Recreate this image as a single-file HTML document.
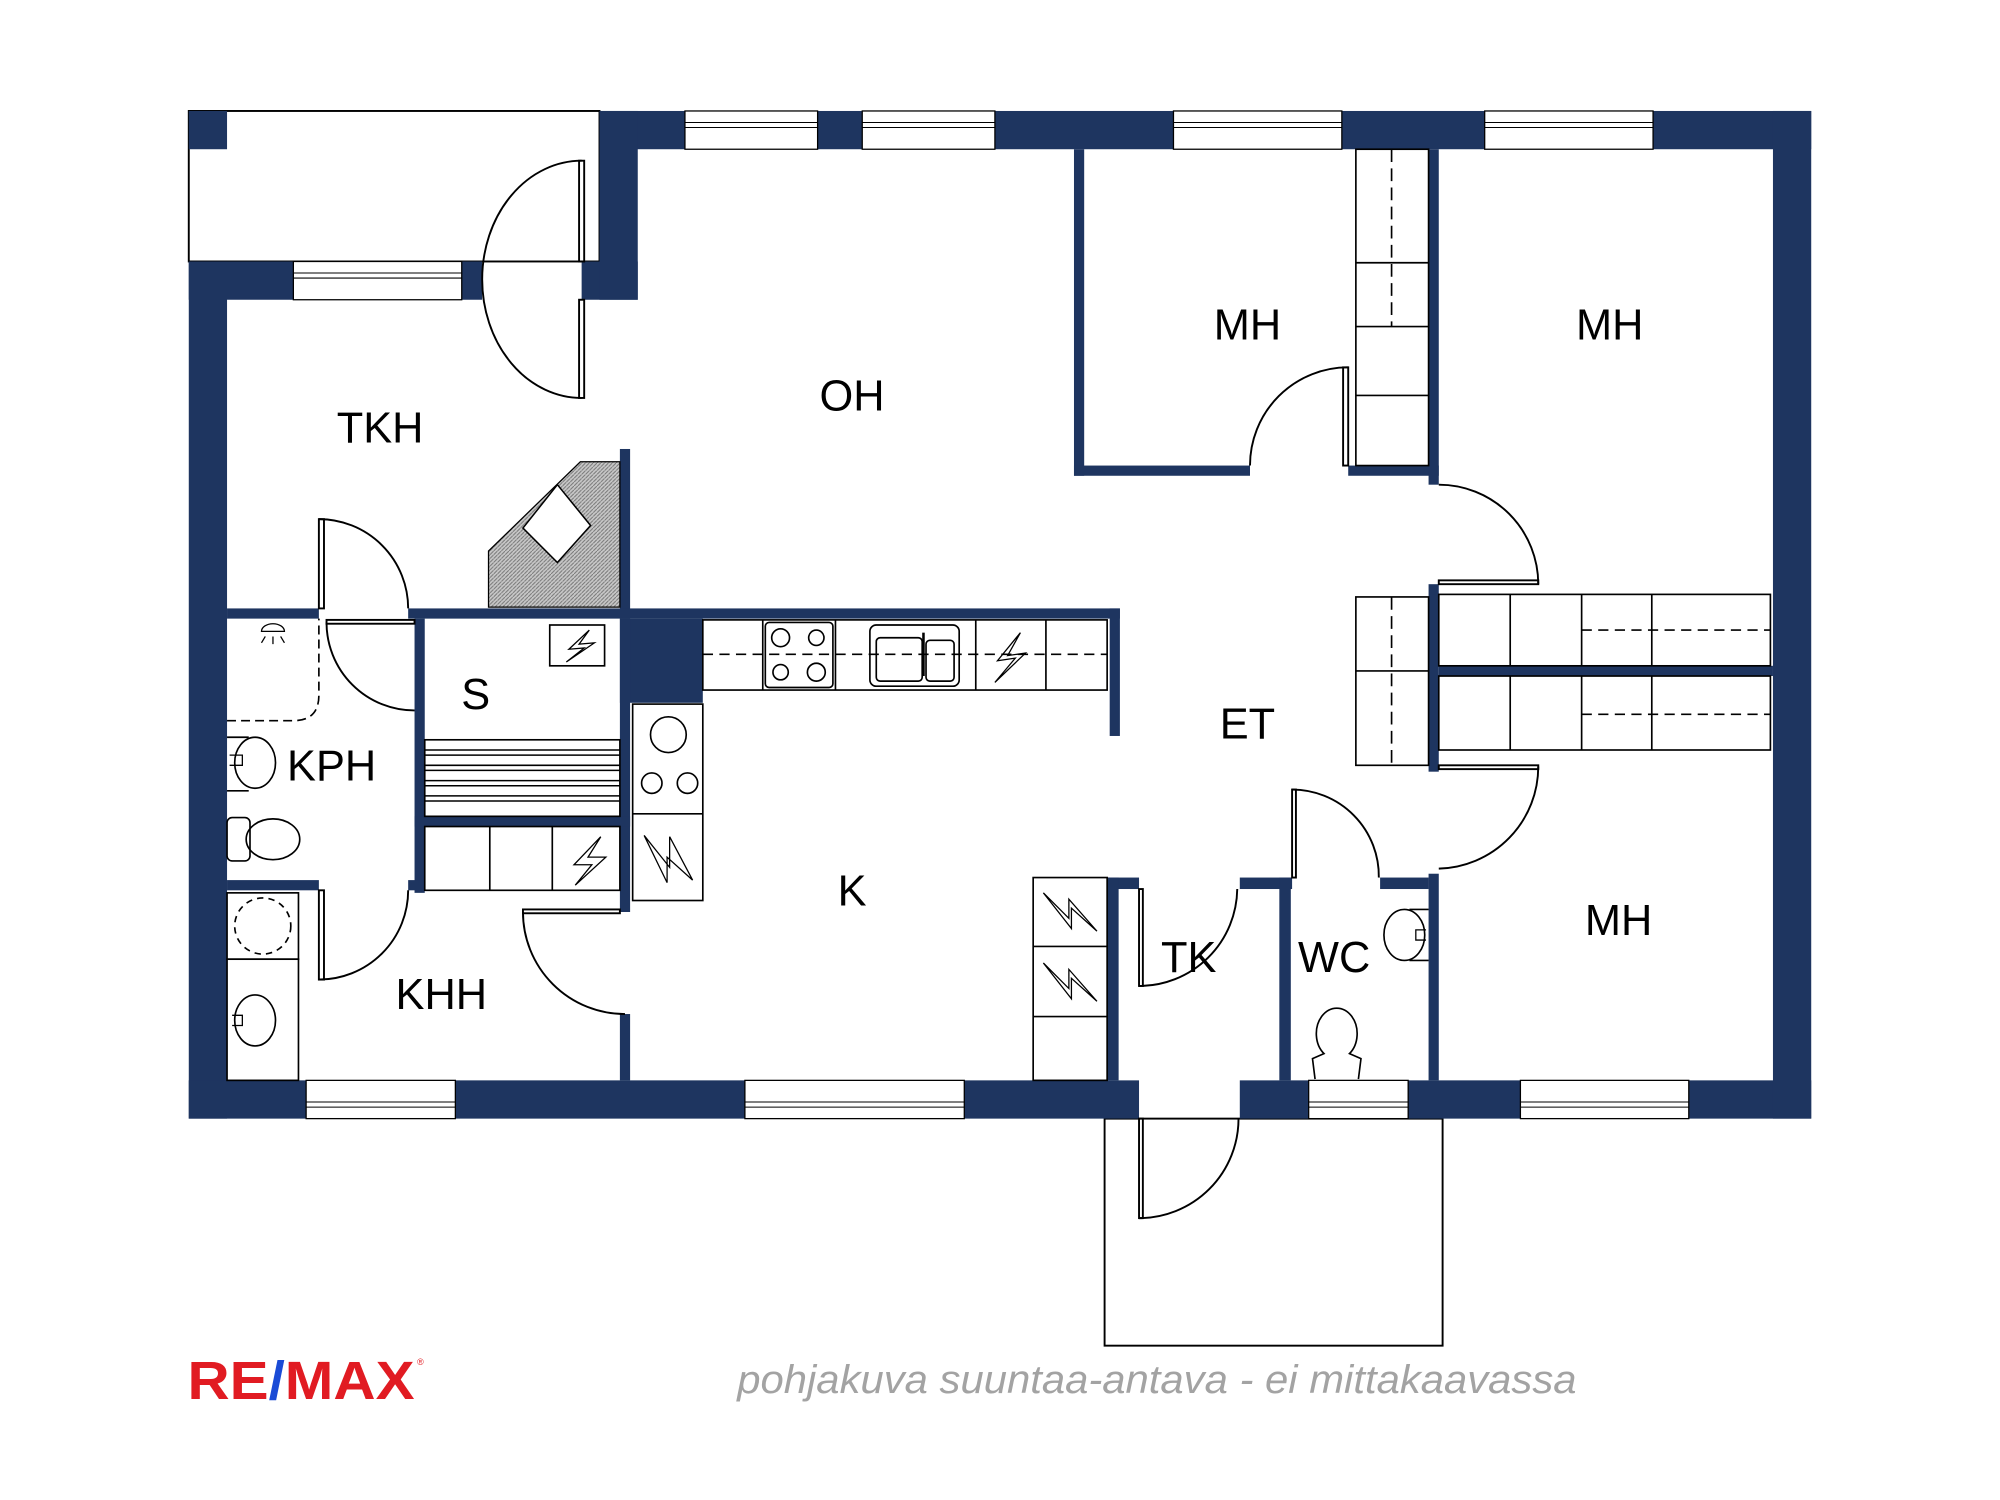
<!DOCTYPE html>
<html><head><meta charset="utf-8"><style>
html,body{margin:0;padding:0;background:#fff;}
svg{display:block;}
text{font-family:"Liberation Sans",sans-serif;}
</style></head><body>
<svg width="2000" height="1500" viewBox="0 0 1568 1176" preserveAspectRatio="none" xmlns="http://www.w3.org/2000/svg">
<defs>
<pattern id="h" width="3" height="3" patternUnits="userSpaceOnUse"><rect width="3" height="3" fill="#c8c8c8"/><path d="M0,3 L3,0" stroke="#777" stroke-width="0.8"/></pattern>
</defs>
<rect x="148" y="87" width="322" height="118" fill="none" stroke="#000" stroke-width="1.5"/>
<rect x="866" y="877" width="265" height="178" fill="none" stroke="#000" stroke-width="1.5"/>
<g fill="#1e3560">
<rect x="470" y="87" width="950" height="30"/>
<rect x="148" y="87" width="30" height="30"/>
<rect x="148" y="205" width="30" height="672"/>
<rect x="148" y="847" width="745" height="30"/>
<rect x="972" y="847" width="448" height="30"/>
<rect x="1390" y="87" width="30" height="790"/>
<rect x="148" y="205" width="230" height="30"/>
<rect x="456" y="205" width="44" height="30"/>
<rect x="470" y="87" width="30" height="148"/>
<rect x="486" y="352" width="8" height="133"/>
<rect x="178" y="477" width="72" height="8"/>
<rect x="320" y="477" width="558" height="8"/>
<rect x="870" y="477" width="8" height="100"/>
<rect x="486" y="485" width="65" height="66"/>
<rect x="325" y="485" width="8" height="215"/>
<rect x="486" y="485" width="8" height="230"/>
<rect x="325" y="640" width="169" height="8"/>
<rect x="178" y="690" width="72" height="8"/>
<rect x="320" y="690" width="13" height="8"/>
<rect x="486" y="795" width="8" height="52"/>
<rect x="842" y="117" width="8" height="256"/>
<rect x="842" y="365" width="138" height="8"/>
<rect x="1057" y="365" width="71" height="8"/>
<rect x="1120" y="117" width="8" height="263"/>
<rect x="1120" y="458" width="8" height="147"/>
<rect x="1120" y="685" width="8" height="162"/>
<rect x="1128" y="522" width="262" height="8"/>
<rect x="868" y="688" width="25" height="9"/>
<rect x="868" y="688" width="9" height="159"/>
<rect x="972" y="688" width="41" height="9"/>
<rect x="1003" y="688" width="9" height="159"/>
<rect x="1082" y="688" width="38" height="9"/>
</g>
<g fill="#fff" stroke="#000" stroke-width="1">
<rect x="537" y="87" width="104" height="30"/><rect x="676" y="87" width="104" height="30"/>
<rect x="920" y="87" width="132" height="30"/><rect x="1164" y="87" width="132" height="30"/>
<rect x="230" y="205" width="132" height="30"/>
<rect x="240" y="847" width="117" height="30"/><rect x="584" y="847" width="172" height="30"/>
<rect x="1026" y="847" width="78" height="30"/><rect x="1192" y="847" width="132" height="30"/>
</g>
<g stroke="#000" stroke-width="0.8" fill="none">
<path d="M537,96H641M537,100H641M676,96H780M676,100H780M920,96H1052M920,100H1052M1164,96H1296M1164,100H1296M230,214H362M230,218H362M240,868H357M240,864H357M584,868H756M584,864H756M1026,868H1104M1026,864H1104M1192,868H1324M1192,864H1324"/>
</g>
<g fill="none" stroke="#000" stroke-width="1.5">
<path d="M456,126 A78,93 0 0 0 456,312"/>
<rect x="454" y="126" width="4" height="79"/><rect x="454" y="235" width="4" height="77"/>
<path d="M250,407 A70,70 0 0 1 320,477"/><rect x="250" y="407" width="4" height="70"/>
<path d="M256,488 A69,69 0 0 0 325,557"/><rect x="256" y="486" width="69" height="3"/>
<path d="M250,768 A70,70 0 0 0 320,698"/><rect x="250" y="698" width="4" height="70"/>
<path d="M410,715 A80,80 0 0 0 490,795"/><rect x="410" y="713" width="76" height="3"/>
<path d="M980,365 A77,77 0 0 1 1057,288"/><rect x="1053" y="288" width="4" height="77"/>
<path d="M1128,380 A78,78 0 0 1 1206,458"/><rect x="1128" y="455" width="78" height="3"/>
<path d="M1206,601 A80,80 0 0 1 1128,681"/><rect x="1128" y="600" width="78" height="3"/>
<path d="M1013,619 A68,68 0 0 1 1081,688"/><rect x="1013" y="619" width="3" height="69"/>
<path d="M893,773 A77,77 0 0 0 970,697"/><rect x="893" y="697" width="3" height="76"/>
<path d="M893,955 A78,78 0 0 0 971,877"/><rect x="893" y="877" width="3" height="78"/>
</g>
<polygon points="383,476 383,432 455,362 486,362 486,476" fill="url(#h)" stroke="#000" stroke-width="1"/>
<polygon points="410,414 437,380 463,412 437,441" fill="#fff" stroke="#000" stroke-width="1.2"/>
<g fill="none" stroke="#000" stroke-width="1.3">
<rect x="551" y="486" width="317" height="55"/>
<path d="M598,486V541M655,486V541M765,486V541M820,486V541"/>
<path d="M551,513H868" stroke-dasharray="8,5"/>
<rect x="600" y="488" width="53" height="51" rx="3"/>
<circle cx="612" cy="500" r="7"/><circle cx="640" cy="500" r="6"/><circle cx="612" cy="527" r="6"/><circle cx="640" cy="527" r="7"/>
<rect x="682" y="490" width="70" height="48" rx="5"/><rect x="687" y="500" width="36" height="34" rx="3"/><rect x="726" y="502" width="22" height="32" rx="3"/>
<path d="M724,496V530" stroke-width="2"/>
<path d="M800,496 L782,518 L796,516 L780,535 L804,512 L790,514 Z" stroke-width="1"/>
<rect x="496" y="552" width="55" height="154"/><path d="M496,638H551"/>
<circle cx="524" cy="576" r="14"/><circle cx="511" cy="614" r="8"/><circle cx="539" cy="614" r="8"/>
<path d="M505,655 L525,680 L525,656 L543,690 L523,672 L523,692 Z" stroke-width="1"/>
<rect x="431" y="490" width="43" height="32"/>
<path d="M462,494 L446,509 L458,508 L444,519 L466,504 L454,505 Z" stroke-width="1"/>
<rect x="333" y="580" width="153" height="60"/>
<path d="M333,588H486M333,592H486M333,600H486M333,604H486M333,612H486M333,616H486M333,624H486M333,628H486" stroke-width="1.2"/>
<rect x="333" y="648" width="153" height="50"/><path d="M384,648V698M433,648V698"/>
<path d="M471,656 L450,678 L464,678 L451,694 L475,672 L461,672 Z" stroke-width="1"/>
<path d="M178,565H230 Q250,565 250,545V485" stroke-dasharray="7,4"/>
<path d="M205,495 a9,6 0 0 1 18,0 Z M208,499l-3,5M214,499v6M220,499l3,5" stroke-width="1"/>
<ellipse cx="200" cy="598" rx="16" ry="20"/><path d="M178,578 L195,578 M178,620 L195,620"/>
<path d="M180,592h10v8h-10" stroke-width="1"/>
<rect x="178" y="641" width="18" height="34" rx="4"/><ellipse cx="214" cy="658" rx="21" ry="16"/>
<rect x="178" y="700" width="56" height="52"/><circle cx="206" cy="726" r="22" stroke-dasharray="5,4"/>
<rect x="178" y="752" width="56" height="95"/><ellipse cx="200" cy="800" rx="16" ry="20"/>
<path d="M182,796h8v8h-8" stroke-width="1"/>
<rect x="810" y="688" width="58" height="159"/><path d="M810,742H868M810,797H868"/>
<path d="M818,700 L838,720 L838,705 L860,730 L840,712 L840,728 Z" stroke-width="1"/>
<path d="M818,755 L838,775 L838,760 L860,785 L840,767 L840,783 Z" stroke-width="1"/>
<rect x="1063" y="468" width="57" height="132"/><path d="M1063,526H1120"/><path d="M1091,468V600" stroke-dasharray="10,5"/>
<rect x="1063" y="117" width="57" height="248"/><path d="M1063,206H1120M1063,256H1120M1063,310H1120"/><path d="M1091,117V256" stroke-dasharray="10,5"/>
<rect x="1128" y="466" width="260" height="56"/><rect x="1128" y="530" width="260" height="58"/>
<path d="M1184,466V522M1240,466V522M1295,466V522M1184,530V588M1240,530V588M1295,530V588"/>
<path d="M1240,494H1388M1240,560H1388" stroke-dasharray="8,5"/>
<ellipse cx="1101" cy="733" rx="16" ry="20"/><path d="M1105,713H1120M1105,753H1120"/>
<path d="M1118,729h-8v8h8" stroke-width="1"/>
<path d="M1031,846 L1029,830 L1038,826 A16,20 0 1 1 1058,826 L1067,830 L1065,846"/>
</g>
<g font-size="34" fill="#000" text-anchor="middle">
<text x="298" y="347">TKH</text>
<text x="668" y="322">OH</text>
<text x="978" y="266">MH</text>
<text x="1262" y="266">MH</text>
<text x="373" y="556">S</text>
<text x="260" y="612">KPH</text>
<text x="978" y="579">ET</text>
<text x="668" y="710">K</text>
<text x="932" y="762">TK</text>
<text x="1046" y="762">WC</text>
<text x="1269" y="733">MH</text>
<text x="346" y="791">KHH</text>
</g>
<text x="147" y="1097" font-size="42" font-weight="bold" fill="#e11b22" textLength="178" lengthAdjust="spacingAndGlyphs">RE<tspan fill="#1a4bd6">/</tspan>MAX</text>
<text x="327" y="1070" font-size="7" fill="#e11b22">®</text>
<text x="907" y="1092" font-size="31" font-style="italic" fill="#a3a3a3" text-anchor="middle" textLength="658" lengthAdjust="spacingAndGlyphs">pohjakuva suuntaa-antava - ei mittakaavassa</text>
</svg>
</body></html>
